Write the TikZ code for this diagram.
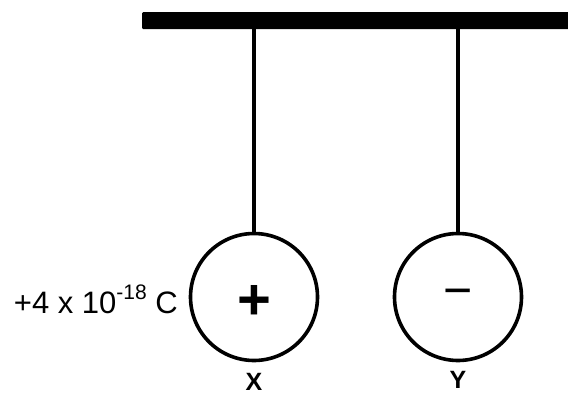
\documentclass[tikz,border=0pt]{standalone}
\usepackage{fontspec}
\setmainfont{Liberation Sans}
\usetikzlibrary{positioning}

\begin{document}
\begin{tikzpicture}[x=1pt, y=-1pt,
    ball/.style={draw, circle, line width=3.6pt, minimum size=127pt, inner sep=0pt},
    thread/.style={line width=3.6pt},
    sign/.style={font=\fontsize{58}{58}\selectfont\bfseries, inner sep=0pt},
    tag/.style={font=\fontsize{25}{25}\selectfont\bfseries, anchor=north, inner sep=0pt}]
    \useasboundingbox (0,0) rectangle (568,396);
    % support beam
    \node (beam) [fill=black, rounded corners=1pt, anchor=north west, minimum width=428pt, minimum height=17pt, inner sep=0pt] at (142,12) {};
    % the two spheres
    \node (ballX) [ball] at (254,297) {};
    \node (ballY) [ball] at (458,297) {};
    \draw[thread] (beam.south -| ballX.north) -- (ballX.north);
    \draw[thread] (beam.south -| ballY.north) -- (ballY.north);
    % charges
    \node (plusX) [sign] at (254,302) {+};
    \node (minusY) [sign, font=\fontsize{50}{50}\selectfont] at (458,298) {−};
    \node (qX) [anchor=base east, inner sep=0pt, font=\fontsize{31}{31}\selectfont] at (178,313) {+4 x 10\raisebox{0.42em}{\fontsize{21}{21}\selectfont -18} C};
    % names
    \node (nameX) [tag] at (254,373) {X};
    \node (nameY) [tag] at (458,371) {Y};
\end{tikzpicture}
\end{document}
